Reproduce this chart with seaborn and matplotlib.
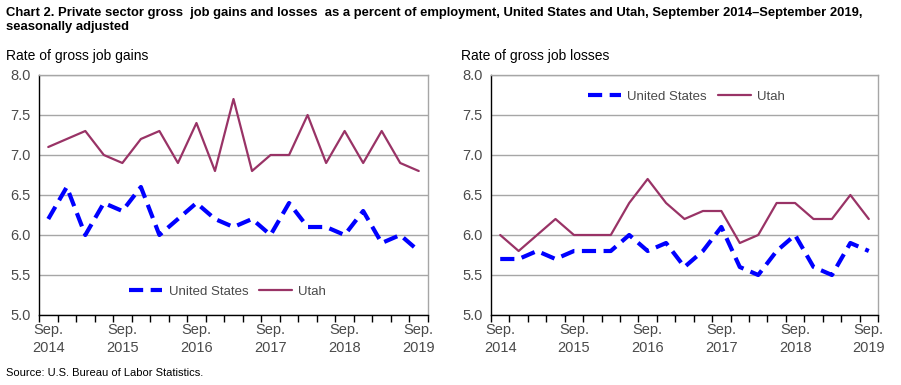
import matplotlib
matplotlib.use("Agg")
import matplotlib.pyplot as plt
import seaborn as sns
import pandas as pd
import numpy as np
from matplotlib.ticker import FixedLocator, FormatStrFormatter

sns.set_theme(style="white")
plt.rcParams['font.family'] = ['Liberation Sans', 'DejaVu Sans']

quarters = ["Sep. 2014", "Dec. 2014", "Mar. 2015", "Jun. 2015", "Sep. 2015", "Dec. 2015",
            "Mar. 2016", "Jun. 2016", "Sep. 2016", "Dec. 2016", "Mar. 2017", "Jun. 2017",
            "Sep. 2017", "Dec. 2017", "Mar. 2018", "Jun. 2018", "Sep. 2018", "Dec. 2018",
            "Mar. 2019", "Jun. 2019", "Sep. 2019"]
tick_labels = ["Sep.\n2014", "Sep.\n2015", "Sep.\n2016", "Sep.\n2017", "Sep.\n2018", "Sep.\n2019"]

gains_us = [6.2, 6.6, 6.0, 6.4, 6.3, 6.6, 6.0, 6.2, 6.4, 6.2, 6.1, 6.2, 6.0, 6.4, 6.1, 6.1, 6.0, 6.3, 5.9, 6.0, 5.8]
gains_ut = [7.1, 7.2, 7.3, 7.0, 6.9, 7.2, 7.3, 6.9, 7.4, 6.8, 7.7, 6.8, 7.0, 7.0, 7.5, 6.9, 7.3, 6.9, 7.3, 6.9, 6.8]
losses_us = [5.7, 5.7, 5.8, 5.7, 5.8, 5.8, 5.8, 6.0, 5.8, 5.9, 5.6, 5.8, 6.1, 5.6, 5.5, 5.8, 6.0, 5.6, 5.5, 5.9, 5.8]
losses_ut = [6.0, 5.8, 6.0, 6.2, 6.0, 6.0, 6.0, 6.4, 6.7, 6.4, 6.2, 6.3, 6.3, 5.9, 6.0, 6.4, 6.4, 6.2, 6.2, 6.5, 6.2]

US_COLOR = "#0000FF"
UT_COLOR = "#993366"
TXT = "#4a4a4a"

fig = plt.figure(figsize=(9.01, 3.85), dpi=100)
W, H = 901, 385

def add_ax(x0, x1, y0, y1):
    return fig.add_axes([x0 / W, 1 - y1 / H, (x1 - x0) / W, (y1 - y0) / H])

axL = add_ax(39, 428, 75, 315)
axR = add_ax(491, 878, 75, 315)

def draw(ax, us, ut, legend_anchor):
    n = len(quarters)
    df = pd.DataFrame({"idx": np.arange(n), "United States": us, "Utah": ut})
    sns.lineplot(data=df, x="idx", y="United States", ax=ax, color=US_COLOR, lw=3,
                 linestyle=(0, (3.4, 1.8)), label="United States")
    sns.lineplot(data=df, x="idx", y="Utah", ax=ax, color=UT_COLOR, lw=1.6, label="Utah")
    ax.set_xlim(-0.5, n - 0.5)
    ax.set_ylim(5.0, 8.0)
    ax.set_yticks(np.arange(5.0, 8.01, 0.5))
    ax.yaxis.set_major_formatter(FormatStrFormatter("%.1f"))
    ax.yaxis.grid(True, color="#a6a6a6", lw=1)
    ax.set_axisbelow(True)
    ax.set_xticks(np.arange(0, n, 4))
    ax.set_xticklabels(tick_labels, fontsize=10.5, color=TXT, linespacing=1.35)
    ax.xaxis.set_minor_locator(FixedLocator(np.arange(-0.5, n, 1)))
    ax.tick_params(axis="x", which="major", length=0, pad=6)
    ax.tick_params(axis="x", which="minor", length=5, width=1, color="black", direction="out", bottom=True)
    ax.tick_params(axis="y", length=0, labelsize=10.5, labelcolor=TXT, pad=6)
    ax.set_xlabel("")
    ax.set_ylabel("")
    for s in ["left", "bottom"]:
        ax.spines[s].set_color("black")
        ax.spines[s].set_linewidth(1)
    for s in ["top", "right"]:
        ax.spines[s].set_color("#a6a6a6")
        ax.spines[s].set_linewidth(1)
    leg = ax.legend(loc="center", bbox_to_anchor=legend_anchor, ncol=2, frameon=False,
                    fontsize=9.5, handlelength=2.5, columnspacing=0.8, handletextpad=0.5)
    for t in leg.get_texts():
        t.set_color(TXT)

draw(axL, gains_us, gains_ut, (0.485, 0.096))
draw(axR, losses_us, losses_ut, (0.505, 0.91))

fig.text(6 / W, 1 - 20 / H, "Chart 2. Private sector gross  job gains and losses  as a percent of employment, United States and Utah, September 2014\u2013September 2019,\nseasonally adjusted",
         fontsize=9.4, fontweight="bold", va="center", ha="left", color="black", linespacing=1.25)
fig.text(6 / W, 1 - 56 / H, "Rate of gross job gains", fontsize=10, va="center", ha="left", color="black")
fig.text(461 / W, 1 - 56 / H, "Rate of gross job losses", fontsize=10, va="center", ha="left", color="black")
fig.text(6 / W, 1 - 373 / H, "Source: U.S. Bureau of Labor Statistics.", fontsize=8, va="center", ha="left", color="black")

fig.savefig("out.png", dpi=100)
